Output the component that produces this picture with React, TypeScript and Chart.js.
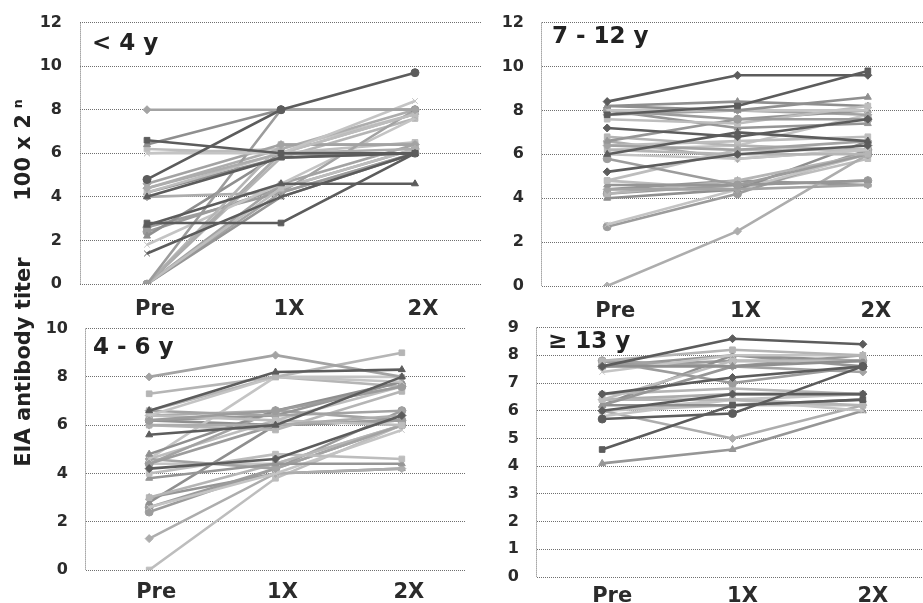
import React, { useEffect, useRef } from 'react';
import { Chart, registerables } from 'chart.js';

Chart.register(...registerables);

const CATEGORIES = ['Pre', '1X', '2X'];

// EIA antibody titer (n, where titer = 100 x 2^n) — Pre, 1X, 2X for each subject
const UNDER_4: number[][] = [
  [8, 8, 8], [6.6, 6, 6], [6.4, 8, 8], [6, 6, 8.4], [4.8, 8, 9.7], [4.4, 6, 6.2],
  [4.2, 6, 7.8], [4, 5.8, 6], [4.6, 6.4, 6.4], [2.8, 2.8, 6], [2.7, 4.6, 4.6], [1.4, 4, 6],
  [0, 8, 8], [0, 6, 7.8], [0, 4.4, 6.2], [0, 4, 6], [0, 4.2, 8], [0, 6.4, 6.4],
  [2.2, 6, 6], [1.8, 4.6, 7.6], [2.6, 4.2, 6], [4.4, 6.2, 8], [6.2, 6, 6.5], [0, 6, 6],
  [0, 4.6, 6.4], [0, 5.8, 7.6], [4.2, 5.8, 6], [6, 6.2, 7.8], [2.4, 4.4, 6.2], [4, 4.2, 6],
];

const AGE_7_12: number[][] = [
  [8.4, 9.6, 9.6], [7.8, 8.2, 9.8], [8.2, 8, 8.6], [8, 8, 8], [8, 7.6, 7.6], [7.2, 6.8, 7.6],
  [7.6, 7.4, 8.2], [6.6, 7.6, 8], [6.4, 6.2, 6.6], [6.2, 6, 6], [6, 7, 6.6], [6, 5.8, 6.2],
  [5.8, 4.6, 6], [5.2, 6, 6.4], [4.8, 6.2, 6.2], [4.6, 4.6, 4.8], [4.4, 4.4, 4.6], [4.2, 4.8, 6],
  [4, 4.4, 6.6], [2.8, 4.4, 6], [2.7, 4.2, 6.2], [0, 2.5, 6], [6.4, 6.6, 6.8], [4.4, 4.8, 4.6],
  [7.8, 8, 7.8], [6.8, 6.4, 6.2], [8.2, 8.4, 8.2], [6.2, 6.4, 7.8], [4.2, 4.6, 4.8], [6.6, 5.8, 6.2],
  [4.8, 4.4, 5.8], [8, 7.2, 7.4],
];

const AGE_4_6: number[][] = [
  [8, 8.9, 8], [7.3, 8, 9], [6.6, 8.2, 8.3], [6.4, 8, 7.8], [6.2, 6.6, 7.6], [6, 6, 6.4],
  [6.4, 6.2, 6], [5.6, 6, 8], [6.6, 6.4, 6.6], [6, 5.8, 7.4], [4.8, 6.6, 7.8], [4.6, 8, 8],
  [4.4, 6, 6.2], [4.2, 4.6, 6.4], [4, 4.8, 4.6], [3.8, 4.4, 4.4], [4.6, 4.2, 6], [3, 4.4, 6],
  [2.8, 6, 6.2], [2.6, 4, 5.8], [2.4, 4.2, 6.6], [1.3, 4, 4.2], [0, 3.8, 6], [6.2, 6.4, 7.8],
  [4.4, 6.6, 6.2], [6.6, 8, 7.6], [6.2, 6, 6.2], [4.4, 4.4, 6], [2.6, 4.2, 6], [6.4, 6.6, 7.6],
  [4.6, 6.2, 7.6], [3, 4, 4.2],
];

const AGE_13_UP: number[][] = [
  [7.6, 8.6, 8.4], [7.8, 8.2, 8], [7.6, 7.6, 7.8], [7.4, 8, 8], [7.8, 7, 7.6], [6.6, 7.2, 7.6],
  [6.4, 7.8, 7.8], [6.2, 7.6, 8], [6, 6.6, 6.6], [6.4, 6.4, 6.2], [6.2, 6.2, 6.4], [5.8, 6.4, 6],
  [5.7, 5.9, 7.6], [6, 5, 6.2], [4.6, 6.2, 6.4], [4.1, 4.6, 6], [7.8, 7.6, 7.4], [6.6, 6.8, 6.6],
  [6.2, 8, 7.8], [6, 6.4, 6.6], [7.6, 7.8, 7.8], [6.4, 6.6, 6.6], [6, 6.2, 6.2], [7.6, 8, 7.6],
];

const PANEL_LABELS = ['< 4 y', '7 - 12 y', '4 - 6 y', '\u2265 13 y'];
const Y_TITLE_MAIN = 'EIA antibody titer';
const Y_TITLE_UNIT = '100 x 2';
const Y_TITLE_EXP = 'n';

// styles (kept apart from the data)
const SHADES = ['#a3a3a3', '#b5b5b5', '#8f8f8f', '#c4c4c4', '#9c9c9c', '#adadad', '#bdbdbd', '#969696'];
const DARK_SHADE = '#5c5c5c';
const MARKERS = ['rectRot', 'rect', 'triangle', 'crossRot', 'circle', 'rectRot', 'rect', 'triangle'];
const DARK_1 = [1, 4, 7, 9, 10, 11];
const DARK_2 = [0, 1, 5, 10, 13];
const DARK_3 = [2, 7, 13];
const DARK_4 = [0, 5, 8, 12, 14];

const FONT = "'DejaVu Sans', sans-serif";

type PanelProps = {
  series: number[][];
  dark: number[];
  yMax: number;
  yStep: number;
  left: number;
  top: number;
  width: number;
  height: number;
  xHeight: number;
  xPad: number;
  labelOffset: number;
};

function Panel(p: PanelProps) {
  const ref = useRef<HTMLCanvasElement>(null);
  useEffect(() => {
    const chart = new Chart(ref.current as HTMLCanvasElement, {
      type: 'line',
      data: {
        labels: CATEGORIES,
        datasets: p.series.map((vals, i) => {
          const isDark = p.dark.includes(i);
          const c = isDark ? DARK_SHADE : SHADES[i % SHADES.length];
          return {
            data: vals,
            borderColor: c,
            backgroundColor: c,
            pointBackgroundColor: c,
            pointBorderColor: c,
            pointStyle: MARKERS[i % MARKERS.length] as any,
            pointRadius: 4,
            pointBorderWidth: 1,
            borderWidth: 2.6,
            tension: 0,
            order: isDark ? 0 : 1,
          };
        }),
      },
      options: {
        responsive: false,
        animation: false,
        events: [],
        layout: { padding: { top: 14, right: 0, left: 0, bottom: 0 } },
        plugins: { legend: { display: false }, tooltip: { enabled: false }, title: { display: false } },
        scales: {
          x: {
            type: 'category',
            offset: true,
            grid: {
              offset: true,
              drawTicks: false,
              lineWidth: 1,
              color: (ctx: any) => (ctx.index === 0 ? '#6f6f6f' : 'rgba(0,0,0,0)'),
            },
            border: { display: false, dash: [1, 1] },
            ticks: {
              padding: p.xPad,
              labelOffset: p.labelOffset,
              color: '#2b2b2b',
              font: { family: FONT, size: 21, weight: 'bold' },
              maxRotation: 0,
              autoSkip: false,
            },
            afterFit: (s: any) => {
              s.height = p.xHeight;
            },
          },
          y: {
            min: 0,
            max: p.yMax,
            grid: { drawTicks: false, color: '#6f6f6f', lineWidth: 1 },
            border: { display: false, dash: [1, 1] },
            ticks: {
              stepSize: p.yStep,
              padding: 18,
              color: '#2b2b2b',
              font: { family: FONT, size: 16, weight: 'bold' },
            },
            afterFit: (s: any) => {
              s.width = 60;
            },
          },
        },
      },
    } as any);
    return () => chart.destroy();
  }, []);
  return (
    <canvas
      ref={ref}
      width={p.width}
      height={p.height}
      style={{ position: 'absolute', left: p.left, top: p.top, width: p.width, height: p.height }}
    />
  );
}

const titleStyle = (left: number, top: number): React.CSSProperties => ({
  position: 'absolute',
  left,
  top,
  fontFamily: FONT,
  fontWeight: 'bold',
  fontSize: 23,
  lineHeight: 1,
  color: '#222',
  whiteSpace: 'nowrap',
});

const rotStyle = (cx: number, cy: number): React.CSSProperties => ({
  position: 'absolute',
  left: cx,
  top: cy,
  transform: 'translate(-50%, -50%) rotate(-90deg)',
  fontFamily: FONT,
  fontWeight: 'bold',
  fontSize: 21,
  lineHeight: 1,
  color: '#222',
  whiteSpace: 'nowrap',
});

export default function App() {
  return (
    <div
      style={{
        position: 'fixed',
        left: 0,
        top: 0,
        width: 923,
        height: 603,
        overflow: 'hidden',
        background: '#ffffff',
      }}
    >
      <Panel series={UNDER_4} dark={DARK_1} yMax={12} yStep={2} left={20} top={-5} width={467} height={329} xHeight={40} xPad={13} labelOffset={8} />
      <Panel series={AGE_7_12} dark={DARK_2} yMax={12} yStep={2} left={482} top={-5} width={456} height={331} xHeight={40} xPad={13} labelOffset={8} />
      <Panel series={AGE_4_6} dark={DARK_3} yMax={10} yStep={2} left={26} top={301} width={444} height={309} xHeight={40} xPad={10} labelOffset={7} />
      <Panel series={AGE_13_UP} dark={DARK_4} yMax={9} yStep={1} left={477} top={300} width={456} height={307} xHeight={30} xPad={7} labelOffset={10} />

      <div style={titleStyle(92, 31)}>{PANEL_LABELS[0]}</div>
      <div style={titleStyle(552, 24)}>{PANEL_LABELS[1]}</div>
      <div style={titleStyle(93, 335)}>{PANEL_LABELS[2]}</div>
      <div style={titleStyle(548, 329)}>{PANEL_LABELS[3]}</div>

      <div style={rotStyle(23, 362)}>{Y_TITLE_MAIN}</div>
      <div style={rotStyle(23, 150)}>
        {Y_TITLE_UNIT}
        <sup style={{ fontSize: '0.6em', marginLeft: 6 }}>{Y_TITLE_EXP}</sup>
      </div>
    </div>
  );
}
